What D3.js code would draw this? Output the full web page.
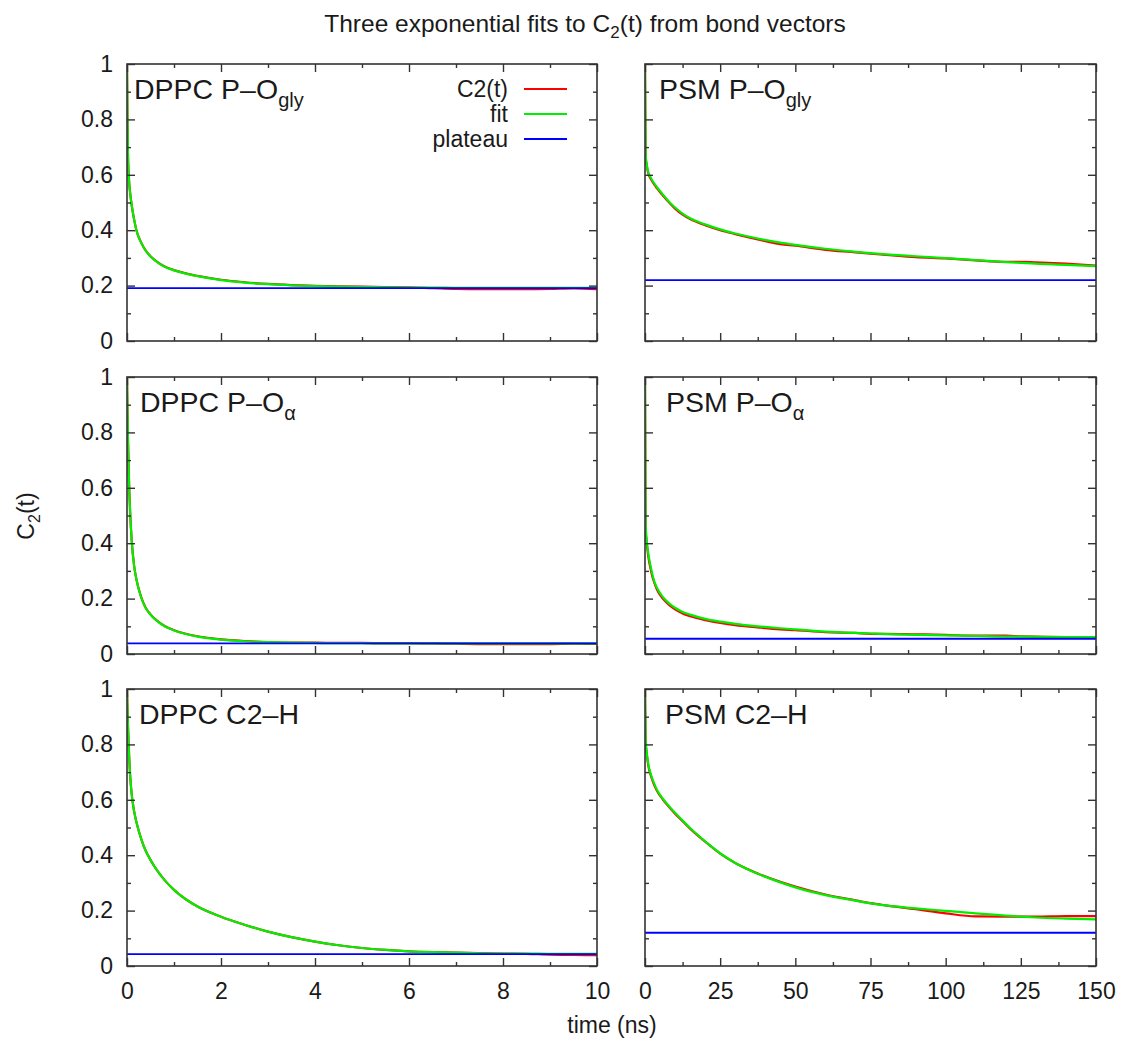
<!DOCTYPE html>
<html>
<head>
<meta charset="utf-8">
<script src="https://cdn.jsdelivr.net/npm/d3@7"></script>
<style>
  body { margin: 0; background: #fff; }
  text { font-family: "Liberation Sans", Arial, sans-serif; fill: #1a1a1a; }
</style>
</head>
<body>
<div id="chart"></div>
<script>
// time grids (ns) for the two columns
const dppcTime = [0, 0.01, 0.02, 0.04, 0.07, 0.1, 0.15, 0.2, 0.3, 0.4, 0.5, 0.6, 0.8, 1.0, 1.25, 1.5, 2, 2.5, 3, 3.5, 4, 4.5, 5, 5.5, 6, 6.5, 7, 7.5, 8, 8.5, 9, 9.5, 10];
const psmTime = [0, 0.2, 0.5, 1, 2, 3, 4, 6, 8, 10, 12.5, 15, 20, 25, 30, 37.5, 45, 50, 60, 70, 75, 80, 90, 100, 110, 120, 125, 130, 140, 150];

// DPPC P-O gly
const dppcPOglyC2 = [1.0, 0.80, 0.68, 0.59, 0.53, 0.49, 0.44, 0.40, 0.356, 0.326, 0.306, 0.291, 0.269, 0.256, 0.244, 0.235, 0.221, 0.212, 0.206, 0.202, 0.199, 0.197, 0.196, 0.195, 0.194, 0.191, 0.188, 0.187, 0.187, 0.187, 0.188, 0.190, 0.187];
const dppcPOglyFit = [1.0, 0.80, 0.68, 0.59, 0.53, 0.49, 0.44, 0.40, 0.355, 0.325, 0.305, 0.29, 0.268, 0.255, 0.243, 0.234, 0.220, 0.211, 0.205, 0.201, 0.198, 0.196, 0.195, 0.194, 0.193, 0.193, 0.192, 0.192, 0.192, 0.192, 0.192, 0.192, 0.192];
// PSM P-O gly
const psmPOglyC2 = [1.0, 0.665, 0.64, 0.608, 0.584, 0.566, 0.551, 0.524, 0.500, 0.478, 0.456, 0.440, 0.418, 0.400, 0.386, 0.367, 0.350, 0.344, 0.329, 0.320, 0.315, 0.311, 0.303, 0.298, 0.291, 0.286, 0.286, 0.284, 0.279, 0.272];
const psmPOglyFit = [1.0, 0.675, 0.645, 0.613, 0.588, 0.570, 0.555, 0.528, 0.503, 0.482, 0.460, 0.443, 0.421, 0.403, 0.388, 0.37, 0.355, 0.347, 0.333, 0.322, 0.317, 0.313, 0.306, 0.299, 0.292, 0.285, 0.282, 0.279, 0.275, 0.270];
// DPPC P-O alpha
const dppcPOaC2 = [1.0, 0.88, 0.78, 0.64, 0.50, 0.41, 0.32, 0.27, 0.206, 0.166, 0.143, 0.126, 0.101, 0.086, 0.073, 0.064, 0.053, 0.047, 0.043, 0.041, 0.041, 0.040, 0.040, 0.039, 0.039, 0.038, 0.037, 0.036, 0.036, 0.036, 0.036, 0.037, 0.036];
const dppcPOaFit = [1.0, 0.88, 0.78, 0.64, 0.50, 0.41, 0.32, 0.27, 0.205, 0.165, 0.142, 0.125, 0.100, 0.085, 0.072, 0.063, 0.052, 0.046, 0.043, 0.041, 0.040, 0.039, 0.039, 0.038, 0.038, 0.038, 0.038, 0.038, 0.038, 0.038, 0.038, 0.038, 0.038];
// PSM P-O alpha
const psmPOaC2 = [1.0, 0.45, 0.41, 0.36, 0.30, 0.26, 0.232, 0.199, 0.177, 0.161, 0.146, 0.136, 0.122, 0.112, 0.104, 0.096, 0.089, 0.086, 0.079, 0.076, 0.073, 0.073, 0.071, 0.069, 0.066, 0.066, 0.064, 0.063, 0.061, 0.060];
const psmPOaFit = [1.0, 0.47, 0.42, 0.37, 0.31, 0.265, 0.238, 0.205, 0.183, 0.167, 0.152, 0.142, 0.127, 0.117, 0.109, 0.100, 0.093, 0.089, 0.081, 0.076, 0.074, 0.072, 0.069, 0.067, 0.065, 0.063, 0.063, 0.062, 0.061, 0.061];
// DPPC C2-H
const dppcC2HC2 = [1.0, 0.93, 0.87, 0.78, 0.68, 0.62, 0.56, 0.52, 0.46, 0.415, 0.383, 0.355, 0.31, 0.275, 0.241, 0.215, 0.178, 0.149, 0.124, 0.104, 0.088, 0.075, 0.065, 0.058, 0.053, 0.050, 0.048, 0.047, 0.045, 0.044, 0.041, 0.040, 0.039];
const dppcC2HFit = [1.0, 0.93, 0.87, 0.78, 0.68, 0.62, 0.56, 0.52, 0.46, 0.415, 0.383, 0.355, 0.31, 0.275, 0.241, 0.215, 0.178, 0.149, 0.124, 0.104, 0.088, 0.075, 0.065, 0.058, 0.053, 0.050, 0.048, 0.046, 0.045, 0.045, 0.044, 0.044, 0.044];
// PSM C2-H
const psmC2HC2 = [1.0, 0.81, 0.775, 0.73, 0.685, 0.655, 0.632, 0.60, 0.574, 0.550, 0.523, 0.496, 0.449, 0.406, 0.372, 0.334, 0.304, 0.287, 0.258, 0.237, 0.227, 0.219, 0.205, 0.190, 0.179, 0.178, 0.178, 0.178, 0.180, 0.180];
const psmC2HFit = [1.0, 0.82, 0.78, 0.735, 0.69, 0.66, 0.635, 0.603, 0.577, 0.553, 0.525, 0.498, 0.450, 0.407, 0.372, 0.333, 0.302, 0.284, 0.256, 0.236, 0.226, 0.219, 0.208, 0.199, 0.190, 0.182, 0.178, 0.175, 0.171, 0.168];

// plateau levels, panel order: DPPC P-Ogly, PSM P-Ogly, DPPC P-Oa, PSM P-Oa, DPPC C2-H, PSM C2-H
const plateauValues = [0.191, 0.22, 0.038, 0.055, 0.043, 0.12];
const panelNames = [["DPPC P–O", "gly"], ["PSM P–O", "gly"], ["DPPC P–O", "α"], ["PSM P–O", "α"], ["DPPC C2–H", ""], ["PSM C2–H", ""]];

const xMajorLeft = [0, 2, 4, 6, 8, 10];
const xMinorLeft = [1, 3, 5, 7, 9];
const xMajorRight = [0, 25, 50, 75, 100, 125, 150];
const xMinorRight = [12.5, 37.5, 62.5, 87.5, 112.5, 137.5];
const yMajor = [0, 0.2, 0.4, 0.6, 0.8, 1];
const yMinor = [0.1, 0.3, 0.5, 0.7, 0.9];
const legendNames = ["C2(t)", "fit", "plateau"];
const seriesColors = ["#ff0000", "#00ee00", "#0000ff"];

const panels = [
    { row: 0, col: 0, time: dppcTime, c2: dppcPOglyC2, fit: dppcPOglyFit },
    { row: 0, col: 1, time: psmTime, c2: psmPOglyC2, fit: psmPOglyFit },
    { row: 1, col: 0, time: dppcTime, c2: dppcPOaC2, fit: dppcPOaFit },
    { row: 1, col: 1, time: psmTime, c2: psmPOaC2, fit: psmPOaFit },
    { row: 2, col: 0, time: dppcTime, c2: dppcC2HC2, fit: dppcC2HFit },
    { row: 2, col: 1, time: psmTime, c2: psmC2HC2, fit: psmC2HFit }
];
panels.forEach((p, i) => { p.plateau = plateauValues[i]; p.name = panelNames[i]; });

// layout
const W = 1145, H = 1040;
const colLeft = [127, 645], colWidth = [470, 451];
const rowTop = [64, 377, 689], panelH = 277;
const labelDx = [[7, 13, 12], [14, 21, 20]]; // label inset per column / row
const frameColor = "#333";

const svg = d3.select("#chart").append("svg")
    .attr("width", W).attr("height", H);

// title
const title = svg.append("text")
    .attr("x", 585).attr("y", 32)
    .attr("text-anchor", "middle")
    .style("font-size", "24.5px");
title.append("tspan").text("Three exponential fits to C");
title.append("tspan").attr("dy", 6).style("font-size", "17px").text("2");
title.append("tspan").attr("dy", -6).text("(t) from bond vectors");

// axis labels
svg.append("text")
    .attr("x", 612).attr("y", 1033)
    .attr("text-anchor", "middle")
    .style("font-size", "23px")
    .text("time (ns)");

const yLab = svg.append("text")
    .attr("transform", "translate(34,516) rotate(-90)")
    .attr("text-anchor", "middle")
    .style("font-size", "23px");
yLab.append("tspan").text("C");
yLab.append("tspan").attr("dy", 6).style("font-size", "16px").text("2");
yLab.append("tspan").attr("dy", -6).text("(t)");

panels.forEach((p, i) => {
    const x0 = colLeft[p.col], y0 = rowTop[p.row];
    const w = colWidth[p.col];
    const g = svg.append("g").attr("transform", `translate(${x0},${y0})`);

    const x = d3.scaleLinear().domain(p.col === 0 ? [0, 10] : [0, 150]).range([0, w]);
    const y = d3.scaleLinear().domain([0, 1]).range([panelH, 0]);
    const xMaj = p.col === 0 ? xMajorLeft : xMajorRight;
    const xMin = p.col === 0 ? xMinorLeft : xMinorRight;

    const clipId = "clip" + i;
    g.append("clipPath").attr("id", clipId)
        .append("rect").attr("width", w).attr("height", panelH);

    // curves: data, fit, plateau (gnuplot draw order)
    const line = d3.line()
        .x(d => x(d[0])).y(d => y(d[1]))
        .curve(d3.curveMonotoneX);
    const curves = g.append("g").attr("clip-path", `url(#${clipId})`);
    curves.append("path")
        .attr("d", line(p.time.map((t, k) => [t, p.c2[k]])))
        .attr("fill", "none").attr("stroke", seriesColors[0]).attr("stroke-width", 2.2);
    curves.append("path")
        .attr("d", line(p.time.map((t, k) => [t, p.fit[k]])))
        .attr("fill", "none").attr("stroke", seriesColors[1]).attr("stroke-width", 2.2);
    curves.append("line")
        .attr("x1", x.range()[0]).attr("x2", x.range()[1])
        .attr("y1", y(p.plateau)).attr("y2", y(p.plateau))
        .attr("stroke", seriesColors[2]).attr("stroke-width", 1.8);

    // axes with inward ticks on all four sides
    const showX = p.row === 2, showY = p.col === 0;
    const styleAxis = sel => {
        sel.select(".domain").remove();
        sel.selectAll(".tick line").attr("stroke", frameColor).attr("stroke-width", 1.4);
        sel.selectAll("text").style("font-size", "23px").attr("fill", "#1a1a1a")
            .style("font-family", "'Liberation Sans', Arial, sans-serif");
    };
    g.append("g").attr("transform", `translate(0,${panelH})`)
        .call(d3.axisBottom(x).tickValues(xMaj).tickSize(-8).tickPadding(17)
            .tickFormat(showX ? d3.format("d") : ""))
        .call(styleAxis);
    g.append("g").attr("transform", `translate(0,${panelH})`)
        .call(d3.axisBottom(x).tickValues(xMin).tickSize(-4).tickFormat(""))
        .call(styleAxis);
    g.append("g")
        .call(d3.axisTop(x).tickValues(xMaj).tickSize(-8).tickFormat(""))
        .call(styleAxis);
    g.append("g")
        .call(d3.axisTop(x).tickValues(xMin).tickSize(-4).tickFormat(""))
        .call(styleAxis);
    g.append("g")
        .call(d3.axisLeft(y).tickValues(yMajor).tickSize(-8).tickPadding(14)
            .tickFormat(showY ? d3.format("~g") : ""))
        .call(styleAxis);
    g.append("g")
        .call(d3.axisLeft(y).tickValues(yMinor).tickSize(-4).tickFormat(""))
        .call(styleAxis);
    g.append("g").attr("transform", `translate(${w},0)`)
        .call(d3.axisRight(y).tickValues(yMajor).tickSize(-8).tickFormat(""))
        .call(styleAxis);
    g.append("g").attr("transform", `translate(${w},0)`)
        .call(d3.axisRight(y).tickValues(yMinor).tickSize(-4).tickFormat(""))
        .call(styleAxis);

    // frame
    g.append("rect")
        .attr("width", w).attr("height", panelH)
        .attr("fill", "none").attr("stroke", frameColor).attr("stroke-width", 1.6);

    // panel label
    const lab = g.append("text")
        .attr("x", labelDx[p.col][p.row]).attr("y", 35)
        .style("font-size", "28.5px");
    lab.append("tspan").text(p.name[0]);
    if (p.name[1]) {
        lab.append("tspan").attr("dy", 8).style("font-size", "20px").text(p.name[1]);
    }

    // legend only in the first panel
    if (i === 0) {
        const leg = g.append("g");
        legendNames.forEach((name, k) => {
            const ly = 25 + k * 25;
            leg.append("text")
                .attr("x", 381).attr("y", ly + 8)
                .attr("text-anchor", "end")
                .style("font-size", "23px")
                .text(name);
            leg.append("line")
                .attr("x1", 397).attr("x2", 440)
                .attr("y1", ly).attr("y2", ly)
                .attr("stroke", seriesColors[k]).attr("stroke-width", k === 2 ? 1.8 : 2.2);
        });
    }
});
</script>
</body>
</html>
